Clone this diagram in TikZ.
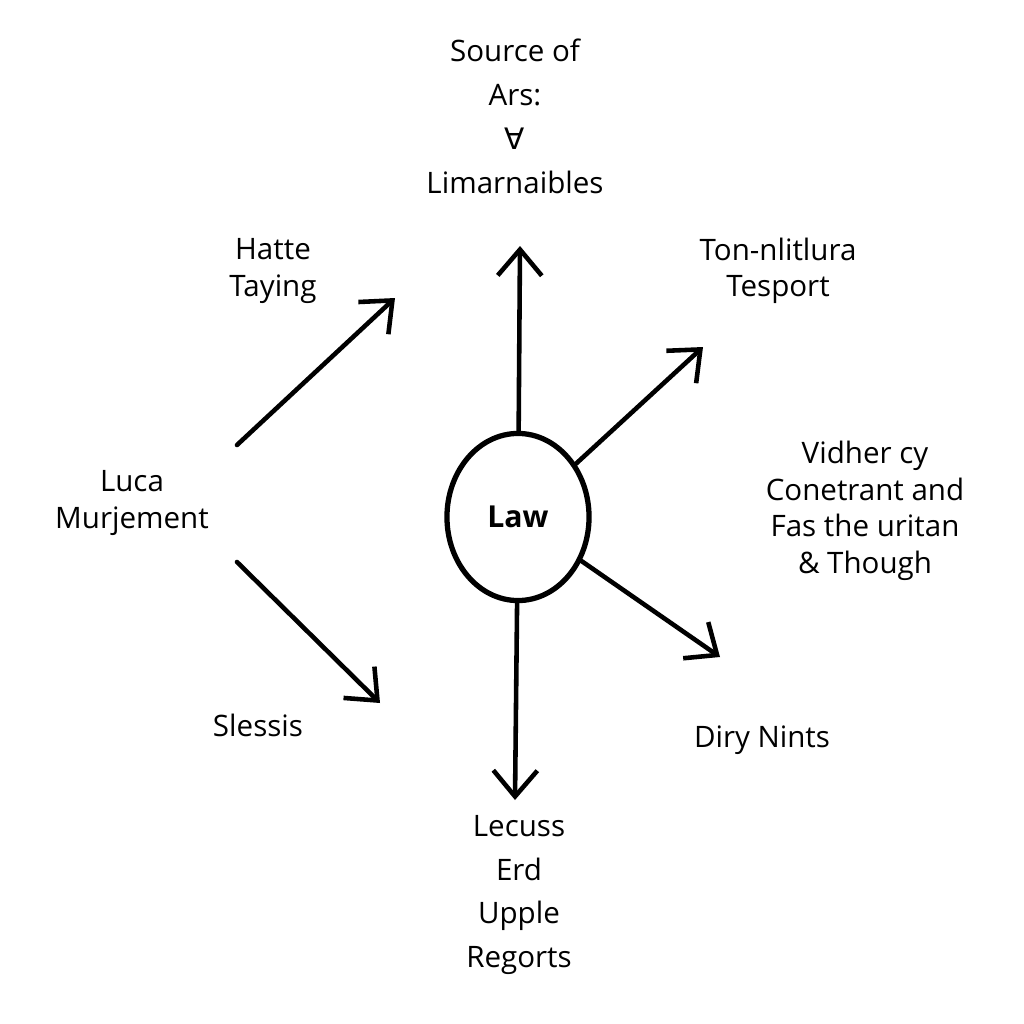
\documentclass[tikz,border=0pt]{standalone}
\usepackage{fontspec}
\setmainfont{Open Sans}
\newfontfamily\symfont{DejaVu Sans}
\usetikzlibrary{arrows.meta,shapes.geometric}
\tikzset{
  hub/.style={ellipse,draw=black,fill=white,line width=1.5pt,inner sep=0pt,
    minimum width=1.42cm,minimum height=1.67cm,font=\fontsize{8.6}{10}\selectfont\bfseries},
  arrow/.style={draw=black,line width=1.3pt,line cap=round,
    -{Straight Barb[length=0.26cm,width=0.44cm,line width=1.3pt]}},
  lbl/.style={align=center,inner sep=1pt,font=\fontsize{8.4}{12.5}\selectfont},
  lblsm/.style={lbl,font=\fontsize{8.4}{10.4}\selectfont},
}

\begin{document}
\begin{tikzpicture}[x=0.01cm,y=-0.01cm]
\useasboundingbox[fill=white] (0,0) rectangle (1024,1024);
\node[hub] (law) at (518,517) {Law};
\node[lbl] (src) at (515,116) {Source of\\Ars:\\{\symfont ∀}\\Limarnaibles};
\node[lblsm] (hat) at (273,271) {Hatte\\Taying};
\node[lblsm] (ton) at (778,271) {Ton-nlitlura\\Tesport};
\node[lblsm] (luc) at (132,503) {Luca\\Murjement};
\node[lblsm] (vid) at (865,511) {Vidher cy\\Conetrant and\\Fas the uritan\\\& Though};
\node[lbl] (sle) at (258,725) {Slessis};
\node[lbl] (dir) at (762,740) {Diry Nints};
\node[lbl] (lec) at (519,895) {Lecuss\\Erd\\Upple\\Regorts};
% arrow ends
\coordinate (tipN) at (520,246);
\coordinate (tipS) at (515,800);
\coordinate (tipNE) at (703,347);
\coordinate (tipSE) at (720,657);
\coordinate (tailNW) at (237,445);
\coordinate (tipNW) at (395,298);
\coordinate (tailSW) at (237,562);
\coordinate (tipSW) at (380,703);
\draw[arrow] (law) -- (tipN);
\draw[arrow] (law) -- (tipS);
\draw[arrow] (law) -- (tipNE);
\draw[arrow] (law) -- (tipSE);
\draw[arrow] (tailNW) -- (tipNW);
\draw[arrow] (tailSW) -- (tipSW);
\end{tikzpicture}
\end{document}
